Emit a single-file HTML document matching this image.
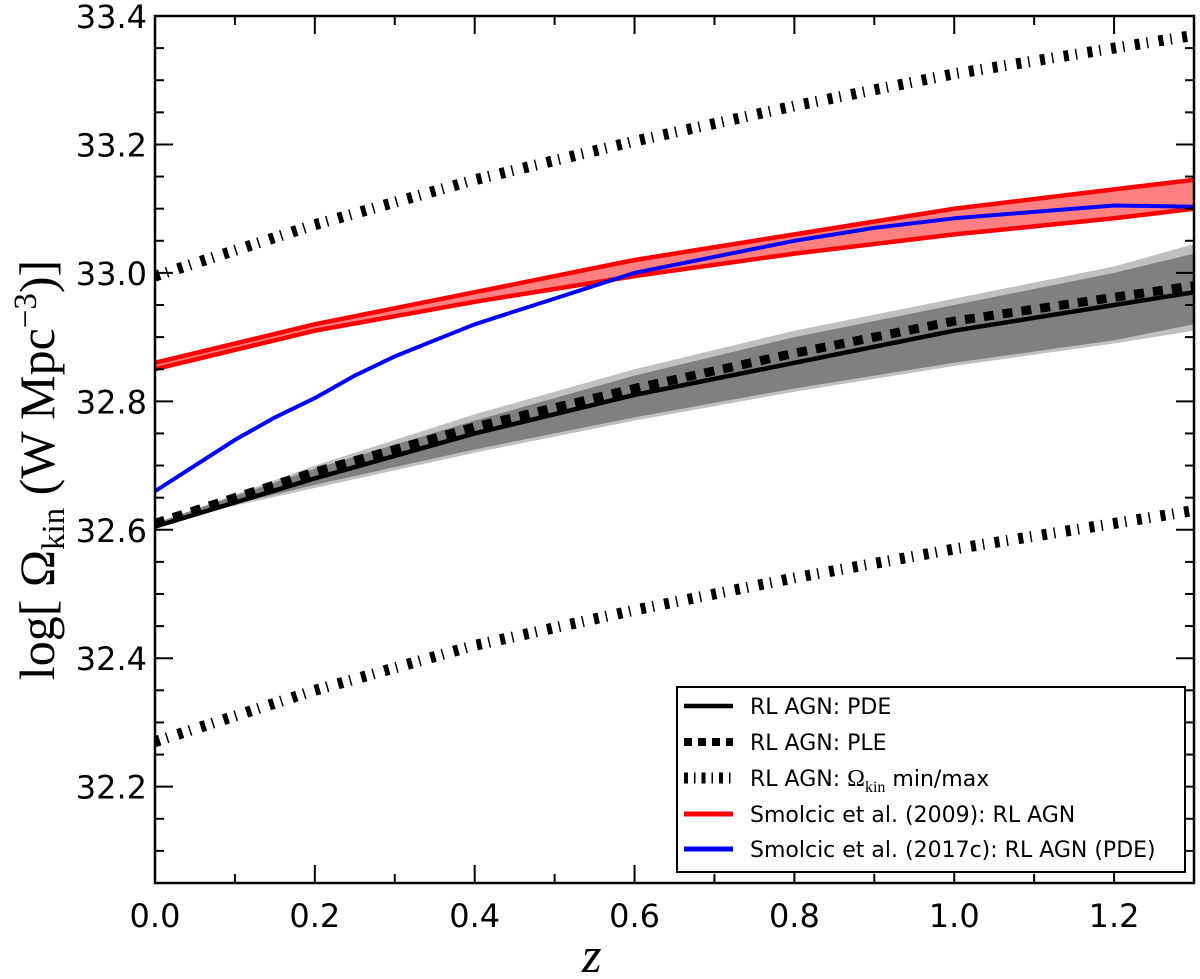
<!DOCTYPE html>
<html><head><meta charset="utf-8"><style>
body{margin:0;background:#fff;}
.sans{font-family:"DejaVu Sans","Liberation Sans",sans-serif;}
.serif{font-family:"Liberation Serif","DejaVu Serif",serif;}
</style></head><body>
<svg id="chart" width="1200" height="979" viewBox="0 0 1200 979" xmlns="http://www.w3.org/2000/svg" style="position:absolute;left:0;top:0">
<g id="plot"></g>
</svg>
<script>
const zs = [0, 0.2, 0.4, 0.6, 0.8, 1.0, 1.2, 1.3];
const maxLine = [32.995, 33.075, 33.145, 33.205, 33.26, 33.31, 33.35, 33.37];
const minLine = [32.27, 32.35, 32.42, 32.475, 32.525, 32.57, 32.61, 32.63];
const redUpper = [32.86, 32.92, 32.97, 33.02, 33.06, 33.10, 33.13, 33.145];
const redLower = [32.85, 32.91, 32.955, 32.995, 33.03, 33.06, 33.085, 33.10];
const pde = [32.605, 32.68, 32.75, 32.81, 32.86, 32.91, 32.95, 32.97];
const ple = [32.61, 32.69, 32.76, 32.82, 32.875, 32.925, 32.962, 32.98];
const lightUpper = [32.61, 32.70, 32.78, 32.85, 32.91, 32.96, 33.01, 33.045];
const lightLower = [32.61, 32.665, 32.72, 32.77, 32.815, 32.855, 32.89, 32.91];
const darkUpper = [32.61, 32.695, 32.77, 32.84, 32.90, 32.95, 33.00, 33.03];
const darkLower = [32.61, 32.67, 32.725, 32.775, 32.82, 32.86, 32.895, 32.92];
const blueZ = [0, 0.05, 0.1, 0.15, 0.2, 0.25, 0.3, 0.35, 0.4, 0.45, 0.5, 0.55, 0.6, 0.7, 0.8, 0.9, 1.0, 1.1, 1.2, 1.3];
const blueV = [32.66, 32.70, 32.74, 32.775, 32.805, 32.84, 32.87, 32.895, 32.92, 32.94, 32.96, 32.98, 33.0, 33.025, 33.05, 33.07, 33.085, 33.095, 33.105, 33.103];
const xTicks = [0, 0.2, 0.4, 0.6, 0.8, 1.0, 1.2];
const xTickLabels = ["0.0", "0.2", "0.4", "0.6", "0.8", "1.0", "1.2"];
const yTicks = [32.2, 32.4, 32.6, 32.8, 33.0, 33.2, 33.4];
const yTickLabels = ["32.2", "32.4", "32.6", "32.8", "33.0", "33.2", "33.4"];

const L=155,R=1194,T=16,B=883,X0=0,X1=1.3,Y0=32.05,Y1=33.4;
const xs=v=>L+(v-X0)/(X1-X0)*(R-L);
const ys=v=>B-(v-Y0)/(Y1-Y0)*(B-T);
const NS="http://www.w3.org/2000/svg";
const g=document.getElementById('plot');
function mk(tag,attrs,parent){const e=document.createElementNS(NS,tag);for(const k in attrs)e.setAttribute(k,attrs[k]);(parent||g).appendChild(e);return e;}
function pts(xa,ya){return xa.map((z,i)=>xs(z).toFixed(1)+','+ys(ya[i]).toFixed(1)).join(' ');}
function band(up,lo){return 'M'+pts(zs,up)+' L'+zs.slice().reverse().map((z,i)=>xs(z).toFixed(1)+','+ys(lo[lo.length-1-i]).toFixed(1)).join(' ')+'Z';}

const clip=mk('clipPath',{id:'c'});mk('rect',{x:L,y:T,width:R-L,height:B-T},clip);
const pg=mk('g',{'clip-path':'url(#c)'});

let e;
e=mk('path',{d:band(lightUpper,lightLower),fill:'#c0c0c0'},pg);


e=mk('path',{d:band(darkUpper,darkLower),fill:'#808080'},pg);


e=mk('path',{d:band(redUpper,redLower),fill:'#ff8080'},pg);


e=mk('polyline',{points:pts(zs,redUpper),fill:'none',stroke:'#ff0000','stroke-width':4.5},pg);


e=mk('polyline',{points:pts(zs,redLower),fill:'none',stroke:'#ff0000','stroke-width':4.5},pg);


e=mk('polyline',{points:pts(blueZ,blueV),fill:'none',stroke:'#0000ff','stroke-width':4,'stroke-linejoin':'round'},pg);


e=mk('polyline',{points:pts(zs,pde),fill:'none',stroke:'#000','stroke-width':4.5},pg);


e=mk('polyline',{points:pts(zs,ple),fill:'none',stroke:'#000','stroke-width':9,'stroke-dasharray':'10,9'},pg);


e=mk('polyline',{points:pts(zs,maxLine),fill:'none',stroke:'#000','stroke-width':11,'stroke-dasharray':'5,7,1.5,10.5'},pg);


e=mk('polyline',{points:pts(zs,minLine),fill:'none',stroke:'#000','stroke-width':11,'stroke-dasharray':'5,7,1.5,10.5'},pg);



for(let v=0;v<=1.3001;v+=0.1){const x=xs(v);const major=Math.round(v*10)%2===0;const len=major?18:9;
 mk('line',{x1:x,y1:B,x2:x,y2:B-len,stroke:'#000','stroke-width':2});
 mk('line',{x1:x,y1:T,x2:x,y2:T+len,stroke:'#000','stroke-width':2});}
for(let i=0;i<=27;i++){const v=32.05+i*0.05;const y=ys(v);const major=Math.round(v*100)%20===0;const len=major?18:9;
 mk('line',{x1:L,y1:y,x2:L+len,y2:y,stroke:'#000','stroke-width':2});
 mk('line',{x1:R,y1:y,x2:R-len,y2:y,stroke:'#000','stroke-width':2});}
e=mk('rect',{x:L,y:T,width:R-L,height:B-T,fill:'none',stroke:'#000','stroke-width':2.5});


xTicks.forEach((v,i)=>{const t=mk('text',{x:xs(v),y:B+44,'font-size':32,'text-anchor':'middle',class:'sans'});t.textContent=xTickLabels[i];
 
 });
yTicks.forEach((v,i)=>{const t=mk('text',{x:L-8,y:ys(v)+12,'font-size':32,'text-anchor':'end',class:'sans'});t.textContent=yTickLabels[i];
 
 });
</script>
<svg style="position:absolute;left:0;top:0" width="1200" height="979">
<text class="serif" x="582" y="972" font-style="italic" font-size="50">z</text>
<text class="serif" transform="translate(54,470) rotate(-90)" text-anchor="middle" font-size="50">log[ Ω<tspan font-size="33" dy="10">kin</tspan><tspan dy="-10"> (W Mpc</tspan><tspan font-size="33" dy="-18">−3</tspan><tspan dy="18">)]</tspan></text>
<g>
<rect x="677" y="687" width="508" height="185" fill="#fff" stroke="#000" stroke-width="2"/>
<g><line x1="684" y1="706" x2="733" y2="706" stroke="#000" stroke-width="4.5"/><text class="sans" x="750" y="714" font-size="22">RL AGN: PDE</text></g>
<g><line x1="684" y1="742" x2="733" y2="742" stroke="#000" stroke-width="8" stroke-dasharray="8,6"/><text class="sans" x="750" y="750" font-size="22">RL AGN: PLE</text></g>
<g><line x1="684" y1="778" x2="733" y2="778" stroke="#000" stroke-width="11" stroke-dasharray="4,6,1.5,6"/><text class="sans" x="750" y="786" font-size="22">RL AGN: <tspan class="serif" font-size="24">Ω</tspan><tspan class="serif" font-size="16" dy="6">kin</tspan><tspan dy="-6"> min/max</tspan></text></g>
<g><line x1="684" y1="814" x2="733" y2="814" stroke="#ff0000" stroke-width="5"/><text class="sans" x="750" y="822" font-size="22">Smolcic et al. (2009): RL AGN</text></g>
<g><line x1="684" y1="849" x2="733" y2="849" stroke="#0000ff" stroke-width="5"/><text class="sans" x="750" y="857" font-size="22">Smolcic et al. (2017c): RL AGN (PDE)</text></g>
</g>
</svg>
</body></html>
